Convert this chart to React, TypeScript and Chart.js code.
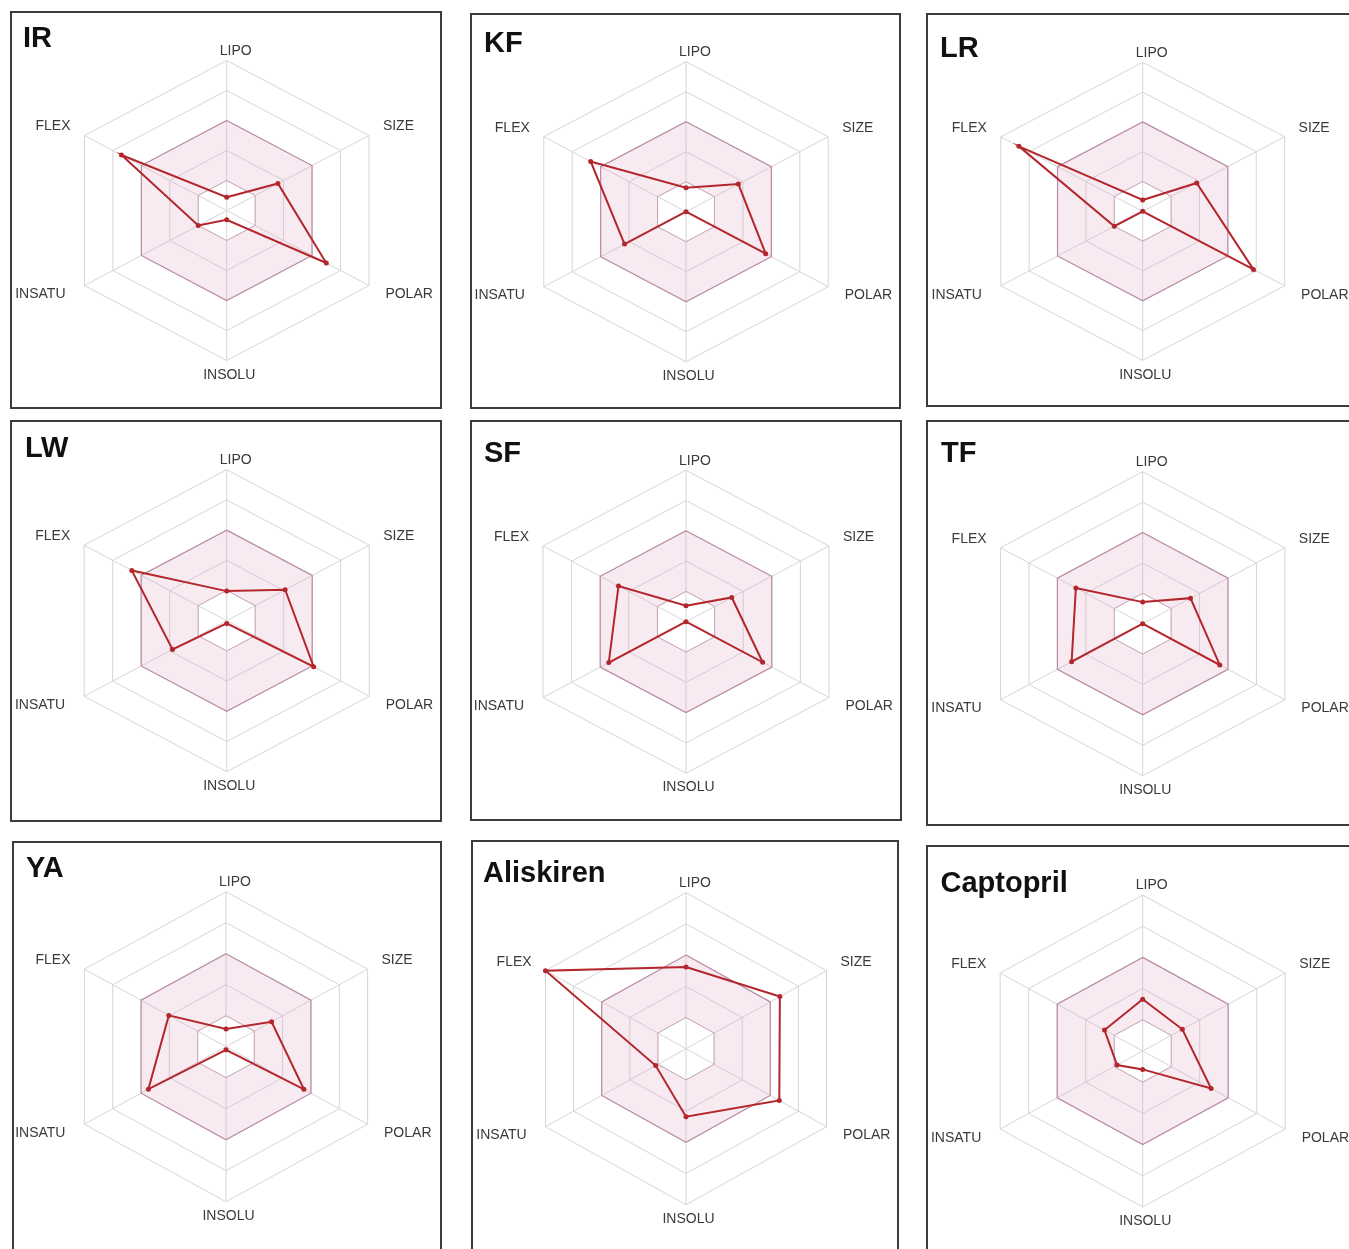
import React, { useEffect, useRef } from 'react';
import { Chart, registerables, RadialLinearScale } from 'chart.js';

Chart.register(...registerables);

// ---------- data ----------
const axisLabels = ['LIPO', 'SIZE', 'POLAR', 'INSOLU', 'INSATU', 'FLEX'];
const optimalLower = [1, 1, 1, 1, 1, 1];
const optimalUpper = [3, 3, 3, 3, 3, 3];

const irValues = [0.44, 1.8, 3.5, 0.31, 1.0, 3.7];
const kfValues = [0.8, 1.84, 2.8, 0.0, 2.16, 3.35];
const lrValues = [0.38, 1.9, 3.9, 0.0, 1.0, 4.36];
const lwValues = [0.98, 2.05, 3.05, 0.09, 1.9, 3.33];
const sfValues = [0.53, 1.6, 2.68, 0.0, 2.7, 2.36];
const tfValues = [0.71, 1.68, 2.71, 0.0, 2.5, 2.35];
const yaValues = [0.57, 1.61, 2.75, 0.1, 2.74, 2.02];
const aliskirenValues = [2.62, 3.34, 3.32, 2.18, 1.08, 5.0];
const captoprilValues = [1.66, 1.39, 2.4, 0.59, 0.9, 1.34];

// ---------- layout (page coordinates) ----------
const labelShiftX = [9, 13, 15.5, 2.5, -18, -13];
const labelPadding = [1, 1, 1, 6, 1, 1];

const panels = [
  { title: 'IR', values: irValues, box: [10, 11, 432, 398], center: [226.7, 210.5], r: 150, sx: 1.095, titlePos: [23, 27] },
  { title: 'KF', values: kfValues, box: [470, 13, 431, 396], center: [686, 211.7], r: 150, sx: 1.095, titlePos: [484, 31.7] },
  { title: 'LR', values: lrValues, box: [926, 13, 440, 394], center: [1142.7, 211.3], r: 149, sx: 1.1, titlePos: [940, 36.7] },
  { title: 'LW', values: lwValues, box: [10, 420, 432, 402], center: [226.7, 620.7], r: 151, sx: 1.09, titlePos: [25, 436.7] },
  { title: 'SF', values: sfValues, box: [470, 420, 432, 401], center: [686, 621.7], r: 151.5, sx: 1.09, titlePos: [484, 441.7] },
  { title: 'TF', values: tfValues, box: [926, 420, 440, 406], center: [1142.7, 623.7], r: 152, sx: 1.08, titlePos: [941, 441.7] },
  { title: 'YA', values: yaValues, box: [12, 841, 430, 430], center: [226, 1046.7], r: 155, sx: 1.055, titlePos: [26, 856.7] },
  { title: 'Aliskiren', values: aliskirenValues, box: [471, 840, 428, 430], center: [686, 1048.7], r: 156, sx: 1.04, titlePos: [483, 861.7] },
  { title: 'Captopril', values: captoprilValues, box: [926, 845, 440, 430], center: [1142.7, 1051], r: 156, sx: 1.055, titlePos: [940.5, 871.7] },
];

// ---------- custom radial scale with fixed geometry ----------
class FixedRadialScale extends (RadialLinearScale as any) {
  static id = 'fixedRadial';
  static defaults = (RadialLinearScale as any).defaults;
  static defaultRoutes = (RadialLinearScale as any).defaultRoutes;
  static descriptors = (RadialLinearScale as any).descriptors;

  setCenterPoint() {
    const g = (this as any).options.geom;
    (this as any).xCenter = g.cx;
    (this as any).yCenter = g.cy;
    (this as any).drawingArea = g.r;
  }

  getPointPosition(index: number, distanceFromCenter: number, additionalAngle = 0) {
    const self = this as any;
    const g = self.options.geom;
    const angle = self.getIndexAngle(index) - Math.PI / 2 + additionalAngle;
    let x = Math.cos(angle) * distanceFromCenter * g.sx + self.xCenter;
    const y = Math.sin(angle) * distanceFromCenter + self.yCenter;
    if (distanceFromCenter > self.drawingArea + 0.25) {
      x += labelShiftX[index] || 0;
    }
    return { x, y, angle };
  }
}
Chart.register(FixedRadialScale as any);

const LINE_RED = '#b3262c';
const FONT = '"Liberation Sans", Arial, Helvetica, sans-serif';

function RadarPanel(props: any) {
  const p = props.panel;
  const ref = useRef<HTMLCanvasElement | null>(null);
  const [bx, by, bw, bh] = p.box;

  useEffect(() => {
    if (!ref.current) return;
    const chart = new Chart(ref.current, {
      type: 'radar',
      data: {
        labels: axisLabels,
        datasets: [
          {
            data: p.values,
            borderColor: LINE_RED,
            borderWidth: 2,
            pointRadius: 2.5,
            pointBackgroundColor: LINE_RED,
            pointBorderWidth: 0,
            fill: false,
          },
          {
            data: optimalLower,
            borderColor: 'rgba(185,135,160,0.55)',
            borderWidth: 1,
            pointRadius: 0,
            fill: false,
          },
          {
            data: optimalUpper,
            borderColor: 'rgba(175,115,145,0.75)',
            borderWidth: 1.2,
            pointRadius: 0,
            backgroundColor: 'rgba(222,150,185,0.2)',
            fill: '-1',
          },
        ],
      } as any,
      options: {
        responsive: false,
        animation: false,
        events: [],
        layout: { padding: 0 },
        plugins: { legend: { display: false }, tooltip: { enabled: false } },
        scales: {
          r: {
            type: 'fixedRadial',
            geom: { cx: p.center[0] - bx, cy: p.center[1] - by, r: p.r, sx: p.sx },
            min: 0,
            max: 5,
            ticks: { display: false, stepSize: 1 },
            grid: { color: '#d6d4d7', lineWidth: 1 },
            angleLines: { color: '#d6d4d7', lineWidth: 1 },
            pointLabels: {
              font: { family: FONT, size: 14 },
              color: '#3a3a3a',
              padding: (ctx: any) => labelPadding[ctx.index] ?? 1,
            },
          },
        } as any,
      } as any,
    });
    return () => chart.destroy();
  }, []);

  return (
    <>
      <div
        style={{
          position: 'absolute',
          left: bx,
          top: by,
          width: bw,
          height: bh,
          border: '2px solid #3c3c3c',
          boxSizing: 'border-box',
        }}
      />
      <canvas
        ref={ref}
        width={bw}
        height={bh}
        style={{ position: 'absolute', left: bx, top: by, width: bw, height: bh }}
      />
      <div
        style={{
          position: 'absolute',
          left: p.titlePos[0],
          top: p.titlePos[1] - 3.7,
          fontFamily: FONT,
          fontWeight: 'bold',
          fontSize: 29,
          lineHeight: '29px',
          color: '#111',
          whiteSpace: 'nowrap',
        }}
      >
        {p.title}
      </div>
    </>
  );
}

export default function App() {
  return (
    <div
      style={{
        position: 'absolute',
        left: 0,
        top: 0,
        width: 1349,
        height: 1249,
        overflow: 'hidden',
        background: '#fff',
      }}
    >
      {panels.map((pn) => (
        <RadarPanel key={pn.title} panel={pn} />
      ))}
    </div>
  );
}
